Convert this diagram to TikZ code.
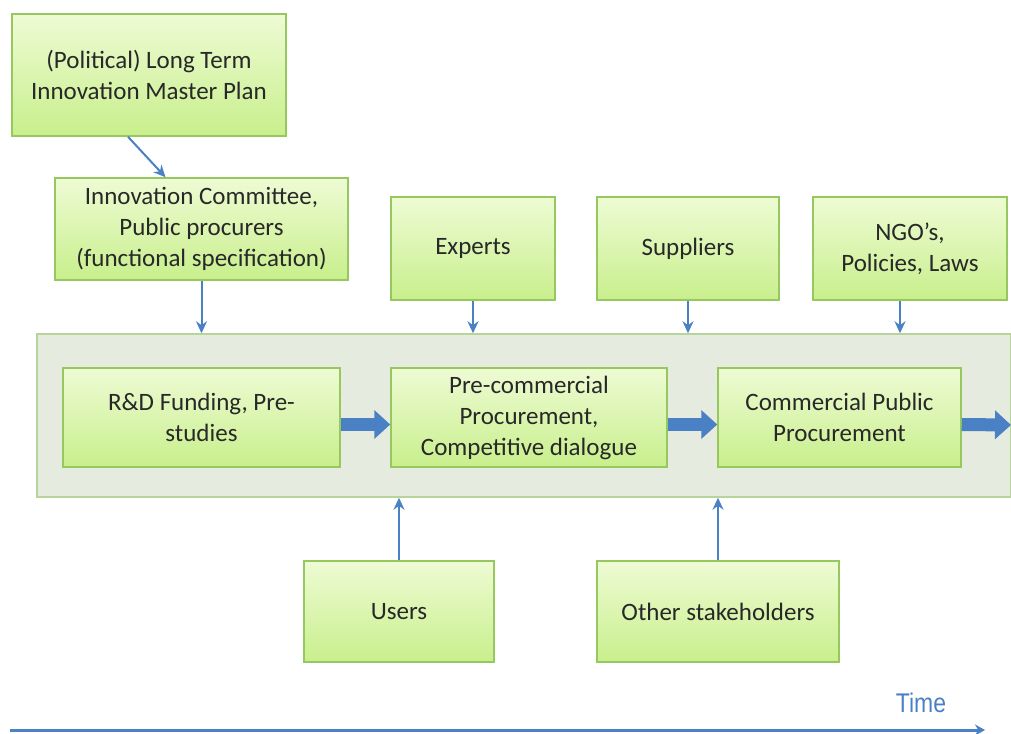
\documentclass[tikz,border=0pt]{standalone}
\usepackage{fontspec}
\setmainfont{Carlito}
\newfontfamily\timefont[FakeStretch=0.85]{Liberation Sans}
\usetikzlibrary{arrows.meta}
\definecolor{boxtop}{RGB}{238,251,212}
\definecolor{boxbot}{RGB}{200,239,140}
\definecolor{boxline}{RGB}{150,200,95}
\definecolor{stagefill}{RGB}{230,235,224}
\definecolor{stageline}{RGB}{185,212,155}
\definecolor{linkblue}{RGB}{74,128,196}
\definecolor{textgray}{RGB}{40,40,40}
\begin{document}
\begin{tikzpicture}[x=1pt,y=-1pt,
    font=\fontsize{25}{31}\selectfont,
    box/.style={draw=boxline,line width=1.5pt,top color=boxtop,bottom color=boxbot,
      align=center,inner sep=0pt,text=textgray},
    stage/.style={draw=stageline,line width=1.5pt,fill=stagefill,inner sep=0pt},
    link/.style={draw=linkblue,line width=2pt,-{Stealth[length=12pt,width=11pt]}},
    flow/.style={draw=linkblue,line width=13pt,-{Triangle[length=16pt,width=28pt]}}]
  \useasboundingbox (0,0) rectangle (1011,733);
  % stage background
  \node[stage,minimum width=974pt,minimum height=163pt] (stage) at (524,415.5) {};
  % upper boxes
  \node[box,minimum width=274pt,minimum height=122pt] (master) at (149,75)
    {(Political) Long Term\\Innovation Master Plan};
  \node[box,minimum width=293pt,minimum height=102pt] (committee) at (201.5,229)
    {Innovation Committee,\\Public procurers\\(functional specification)};
  \node[box,minimum width=164pt,minimum height=103pt] (experts) at (473,248.5) {Experts};
  \node[box,minimum width=182pt,minimum height=103pt] (suppliers) at (688,248.5) {Suppliers};
  \node[box,minimum width=194pt,minimum height=103pt] (ngo) at (910,248.5) {NGO’s,\\Policies, Laws};
  % procurement stages
  \node[box,minimum width=277pt,minimum height=99pt] (rd) at (201.5,417.5) {R\&D Funding, Pre-\\studies};
  \node[box,minimum width=276pt,minimum height=99pt] (pcp) at (529,417.5)
    {Pre-commercial\\Procurement,\\Competitive dialogue};
  \node[box,minimum width=243pt,minimum height=99pt] (cpp) at (839.5,417.5)
    {Commercial Public\\Procurement};
  % lower boxes
  \node[box,minimum width=190pt,minimum height=101pt] (users) at (399,611.5) {Users};
  \node[box,minimum width=242pt,minimum height=101pt] (others) at (718,611.5) {Other stakeholders};
  \coordinate (out) at (1011,425);
  % thin links
  \draw[link] ([xshift=-21pt]master.south) -- ([xshift=-36pt]committee.north);
  \foreach \n in {committee,experts,suppliers} {
    \draw[link] (\n.south) -- (\n.south |- stage.north);
  }
  \draw[link] ([xshift=-10pt]ngo.south) -- ([xshift=-10pt]ngo.south |- stage.north);
  \foreach \n in {users,others} {
    \draw[link] (\n.north) -- (\n.north |- stage.south);
  }
  % block arrows
  \draw[flow] ([yshift=-7pt]rd.east) -- ([yshift=-7pt]pcp.west);
  \draw[flow] ([yshift=-7pt]pcp.east) -- ([yshift=-7pt]cpp.west);
  \draw[flow] ([yshift=-7pt]cpp.east) -- (out);
  % time axis
  \coordinate (t0) at (10,730);
  \coordinate (t1) at (985,730);
  \draw[draw=linkblue,line width=3pt,-{Stealth[length=10pt,width=11pt]}] (t0) -- (t1);
  \node[font=\timefont\fontsize{27}{30}\selectfont,text=linkblue] (time) at (921,703) {Time};
\end{tikzpicture}
\end{document}
